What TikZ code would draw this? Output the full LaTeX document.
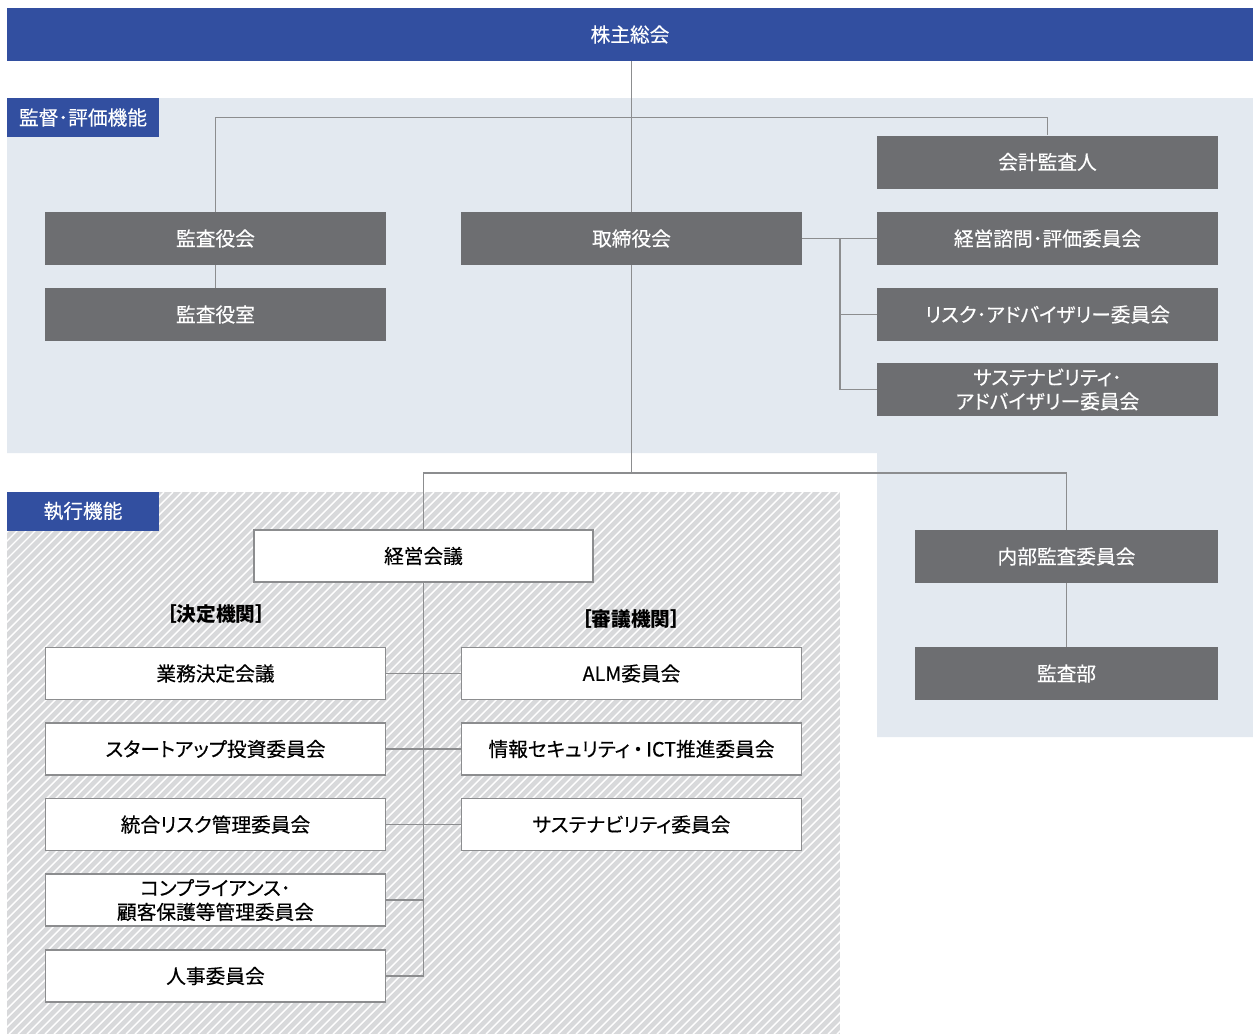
\documentclass[tikz,border=0pt]{standalone}
\usepackage{fontspec}
\setmainfont{Noto Sans CJK JP}[RawFeature=+palt,UprightFeatures={FakeBold=0.35}]
\usetikzlibrary{positioning}
\definecolor{headblue}{HTML}{324FA0}
\definecolor{boxgray}{HTML}{6D6E71}
\definecolor{paleblue}{HTML}{E3E9F0}
\definecolor{hatchgray}{HTML}{D8D9DB}
\definecolor{linegray}{HTML}{8C8D8F}
\newcommand\boxfont{\fontsize{19.7}{24}\selectfont}

\begin{document}
\begin{tikzpicture}[x=1pt,y=-1pt,
  darkbox/.style={fill=boxgray,text=white,minimum width=341pt,minimum height=53pt,
    inner sep=0pt,font=\boxfont,align=center},
  whitebox/.style={fill=white,draw=linegray,line width=1.3pt,minimum width=340pt,
    minimum height=52pt,inner sep=0pt,font=\boxfont,align=center},
  tag/.style={fill=headblue,text=white,minimum width=152pt,minimum height=39pt,
    inner sep=0pt,font=\boxfont},
  link/.style={draw=linegray,line width=1.3pt}]
  \useasboundingbox (0,0) rectangle (1253,1034);
  % regions
  \fill[paleblue] (7,98) -- (1253,98) -- (1253,737) -- (877,737) -- (877,453)
    -- (7,453) -- cycle;
  \begin{scope}
    \clip (7,492) rectangle (840,1034);
    \fill[hatchgray] (7,492) rectangle (840,1034);
    \foreach \k in {-540,-531,...,840}
      \draw[white,line width=1.4pt] (\k,1034) -- ++(542,-542);
  \end{scope}
  % top
  \node[fill=headblue,text=white,minimum width=1246pt,minimum height=53pt,inner sep=0pt,
    font=\boxfont] (soukai) at (630,34.5) {株主総会};
  \node[tag] (kantoku) at (83,117.5) {監督･評価機能};
  \node[tag] (shikkou) at (83,511) {執行機能};
  % supervision
  \node[darkbox] (kaikei) at (1047.5,162) {会計監査人};
  \node[darkbox] (kansayaku) at (215.5,238.5) {監査役会};
  \node[darkbox] (kansashitsu) at (215.5,314.5) {監査役室};
  \node[darkbox] (torishimari) at (631.5,238.5) {取締役会};
  \node[darkbox] (shimon) at (1047.5,238.5) {経営諮問･評価委員会};
  \node[darkbox] (risk) at (1047.5,314.5) {リスク･アドバイザリー委員会};
  \node[darkbox] (sustadv) at (1047.5,389.5) {サステナビリティ･\\アドバイザリー委員会};
  \node[darkbox,minimum width=303pt] (naibu) at (1066.5,556.5) {内部監査委員会};
  \node[darkbox,minimum width=303pt] (kansabu) at (1066.5,673.5) {監査部};
  % execution
  \node[whitebox,minimum width=339pt] (kaigi) at (423.5,556) {経営会議};
  \node[font=\boxfont\bfseries] (kettei) at (216,614) {［決定機関］};
  \node[font=\boxfont\bfseries] (shingi) at (631,619) {［審議機関］};
  \node[whitebox] (gyoumu) at (215.5,673.5) {業務決定会議};
  \node[whitebox] (startup) at (215.5,749) {スタートアップ投資委員会};
  \node[whitebox] (tougou) at (215.5,824.5) {統合リスク管理委員会};
  \node[whitebox] (comp) at (215.5,900) {コンプライアンス･\\顧客保護等管理委員会};
  \node[whitebox] (jinji) at (215.5,976) {人事委員会};
  \node[whitebox] (alm) at (631.5,673.5) {ALM委員会};
  \node[whitebox] (ict) at (631.5,749) {情報セキュリティ\,・\,ICT推進委員会};
  \node[whitebox] (sust) at (631.5,824.5) {サステナビリティ委員会};
  % connectors
  \coordinate (rb) at (840,238.5);
  \coordinate (jt) at (631.5,473);
  \draw[link] (torishimari.north |- soukai.south) -- (torishimari.north);
  \draw[link] (kansayaku.north) -- ++(0,-94) -| (kaikei.north);
  \draw[link] (kansayaku.south) -- (kansashitsu.north);
  \draw[link] (torishimari.east) -- (shimon.west);
  \draw[link] (rb) |- (risk.west);
  \draw[link] (rb) |- (sustadv.west);
  \draw[link] (torishimari.south) -- (jt);
  \draw[link] (kaigi.north) -- (kaigi.north |- jt) -| (naibu.north);
  \draw[link] (naibu.south) -- (kansabu.north);
  \draw[link] (kaigi.south) -- (kaigi.south |- jinji.east) -- (jinji.east);
  \foreach \n in {gyoumu,startup,tougou,comp}
    \draw[link] (\n.east) -- (\n.east -| kaigi.south);
  \foreach \n in {alm,ict,sust}
    \draw[link] (\n.west) -- (\n.west -| kaigi.south);
\end{tikzpicture}
\end{document}
